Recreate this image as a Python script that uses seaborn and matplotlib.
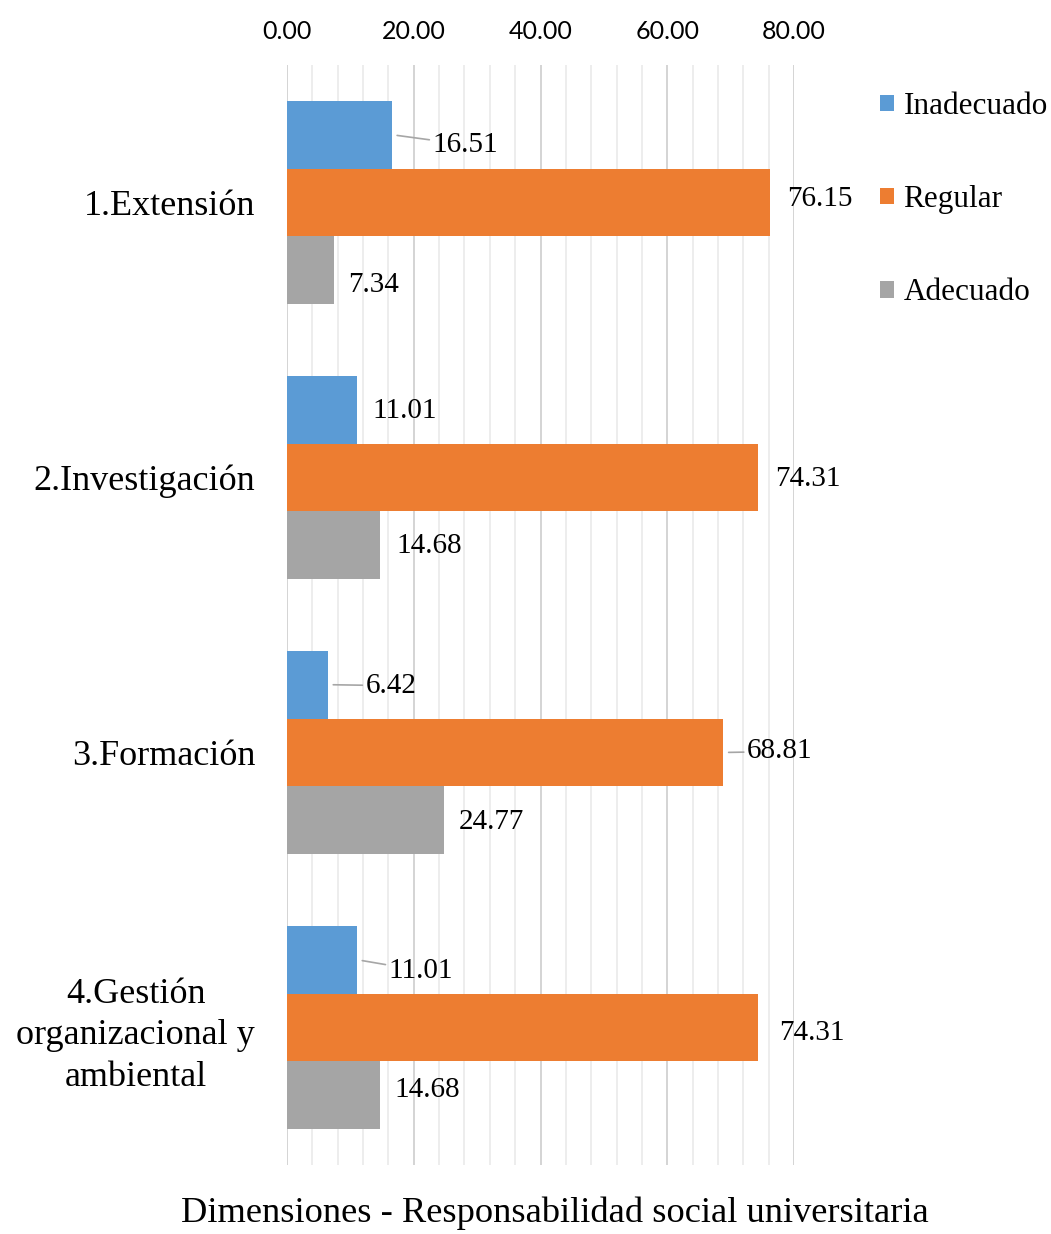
import pandas as pd
import matplotlib
matplotlib.use('Agg')
import matplotlib.pyplot as plt
import seaborn as sns
from matplotlib.ticker import MultipleLocator, FormatStrFormatter

# data
dimensiones = ["1.Extensión", "2.Investigación", "3.Formación",
               "4.Gestión\norganizacional y\nambiental"]
niveles = ["Inadecuado", "Regular", "Adecuado"]
inadecuado = [16.51, 11.01, 6.42, 11.01]
regular = [76.15, 74.31, 68.81, 74.31]
adecuado = [7.34, 14.68, 24.77, 14.68]
colores = ["#5B9BD5", "#ED7D31", "#A5A5A5"]

# label offsets in pixels (dx from bar end, dy from bar centre, leader line)
offsets = {
    "Inadecuado": [(41, 10, True), (16, 1, False), (38, 1, True), (32, 11, True)],
    "Regular": [(18, -4, False), (17, 1, False), (24, -1, True), (21, 5, False)],
    "Adecuado": [(15, 15, False), (16, 1, False), (15, 2, False), (14, -5, False)],
}

df = pd.DataFrame({
    "Dimension": dimensiones * 3,
    "Nivel": [n for n in niveles for _ in dimensiones],
    "Porcentaje": inadecuado + regular + adecuado,
})

sns.set_style("white")
serif = "Liberation Serif"

fig = plt.figure(figsize=(10.51, 12.34), dpi=100)
ax = fig.add_axes([287 / 1051, 1 - 1165 / 1234, (794 - 287) / 1051, 1100 / 1234])

sns.barplot(data=df, y="Dimension", x="Porcentaje", hue="Nivel", order=dimensiones,
            hue_order=niveles, palette=colores, orient="h", width=0.74,
            saturation=1, linewidth=0, ax=ax, legend=True, zorder=3)

ax.set_xlim(0, 80)
ax.set_ylim(3.5, -0.5)
ax.xaxis.tick_top()
ax.xaxis.set_major_locator(MultipleLocator(20))
ax.xaxis.set_minor_locator(MultipleLocator(4))
ax.xaxis.set_major_formatter(FormatStrFormatter("%.2f"))
ax.grid(axis="x", which="major", color="#D4D4D4", linewidth=1.4, zorder=0)
ax.grid(axis="x", which="minor", color="#ECECEC", linewidth=1.3, zorder=0)
ax.set_axisbelow(True)
ax.tick_params(axis="x", which="both", length=0, pad=16, labelsize=18, labelcolor="black")
ax.tick_params(axis="y", length=0, pad=23, labelcolor="black")
for lbl in ax.get_xticklabels():
    lbl.set_fontfamily("Lato")
for lbl in ax.get_yticklabels():
    lbl.set_fontfamily(serif)
    lbl.set_fontsize(26)
    lbl.set_multialignment("center")
    lbl.set_linespacing(1.35)
ax.set_xlabel("")
ax.set_ylabel("")
for s in ax.spines.values():
    s.set_visible(False)

# data labels
for cont, nivel in zip(ax.containers, niveles):
    for bar, (dx, dy, leader) in zip(cont, offsets[nivel]):
        w = bar.get_width()
        yc = bar.get_y() + bar.get_height() / 2
        ax.annotate(f"{w:.2f}", xy=(w, yc), xytext=(dx, -dy),
                    textcoords="offset pixels", ha="left", va="center",
                    fontsize=21, fontfamily=serif, color="black",
                    arrowprops=dict(arrowstyle="-", color="#A6A6A6", lw=1.2,
                                    shrinkA=0, shrinkB=4) if leader else None)

# legend
handles, labels = ax.get_legend_handles_labels()
ax.get_legend().remove()
fig.legend(handles, labels, loc="upper left", bbox_to_anchor=(852 / 1051, 1 - 64 / 1234),
           frameon=False, prop={"family": serif, "size": 22.5}, labelspacing=2.05,
           handlelength=0.45, handleheight=0.45, handletextpad=0.3, labelcolor="black")

fig.text(555 / 1051, 1 - 1213 / 1234, "Dimensiones - Responsabilidad social universitaria",
         ha="center", va="center", fontsize=26.2, fontfamily=serif, color="black")

fig.savefig("out.png", dpi=100)
plt.close()
